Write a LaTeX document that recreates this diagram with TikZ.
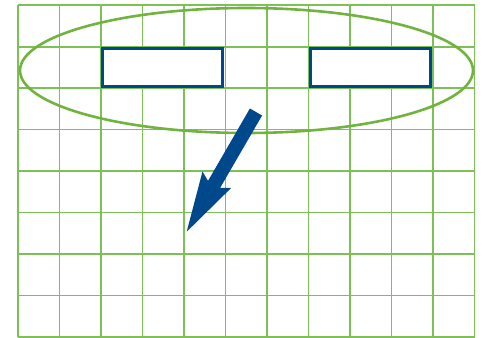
\documentclass[tikz,border=0pt]{standalone}
\usetikzlibrary{shapes.geometric}
\definecolor{gridgreen}{RGB}{125,192,85}
\definecolor{ellgreen}{RGB}{112,180,62}
\definecolor{boxblue}{RGB}{0,72,140}
\begin{document}
\begin{tikzpicture}[x=1pt,y=-1pt,
  gridline/.style={draw=gridgreen,line width=1.6pt},
  oval/.style={ellipse,draw=ellgreen,line width=2.6pt,inner sep=0pt,minimum width=453pt,minimum height=125pt},
  bluebox/.style={rectangle,draw=boxblue,fill=white,line width=2.6pt,inner sep=0pt,minimum width=120pt,minimum height=38pt},
  bigarrow/.style={fill=boxblue,draw=none}]
\useasboundingbox (0,0) rectangle (484,337);
% grid
\foreach \i in {0,...,11} {\draw[gridline] (18+41.5*\i,5.3) -- (18+41.5*\i,337);}
\foreach \j in {0,...,8} {\draw[gridline] (18,5.3+41.45*\j) -- (474.5,5.3+41.45*\j);}
% ellipse
\node[oval] (oval) at (246.5,70.5) {};
% boxes
\node[bluebox] (boxL) at (162.5,67.3) {};
\node[bluebox] (boxR) at (370.5,67.3) {};
% arrow
\coordinate (tip) at (186.7,231.7);
\coordinate (tail) at (256,112);
\fill[bigarrow] (262.1,115.5) -- (220.1,187.9) -- (231.1,188.0) -- (tip) -- (202.5,171.5) -- (208.0,180.9) -- (249.9,108.5) -- cycle;
\end{tikzpicture}
\end{document}
